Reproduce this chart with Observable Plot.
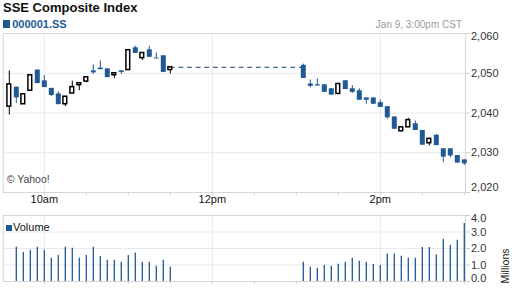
<!DOCTYPE html>
<html><head><meta charset="utf-8">
<script src="https://cdn.jsdelivr.net/npm/d3@7"></script>
<script src="https://cdn.jsdelivr.net/npm/@observablehq/plot@0.6"></script>
<style>
body{margin:0;background:#fff;font-family:"Liberation Sans",Arial,sans-serif;}
#wrap{position:relative;width:512px;height:288px;overflow:hidden;background:#fff;}
#wrap svg{position:absolute;left:0;}
.t{position:absolute;white-space:nowrap;line-height:normal;}
.sq{display:inline-block;width:7.5px;height:7.5px;background:#1f5a94;margin-right:2px;}
</style></head><body><div id="wrap"></div>
<script>
// ---- data ----
const times = ["09:35","09:40","09:45","09:50","09:55","10:00","10:05","10:10","10:15","10:20","10:25","10:30",
  "10:35","10:40","10:45","10:50","10:55","11:00","11:05","11:10","11:15","11:20","11:25","11:30",
  "13:05","13:10","13:15","13:20","13:25","13:30","13:35","13:40","13:45","13:50","13:55","14:00",
  "14:05","14:10","14:15","14:20","14:25","14:30","14:35","14:40","14:45","14:50","14:55","15:00"];
const open  = [2041.6,2046.5,2042.2,2045.6,2050.8,2048.1,2046.2,2044.8,2042.2,2044.9,2047.0,2047.9,
  2050.6,2051.3,2051.1,2049.5,2050.6,2050.8,2056.4,2053.8,2055.9,2053.8,2054.4,2050.8,
  2052.0,2047.3,2047.1,2047.1,2046.1,2044.8,2048.1,2046.1,2045.6,2043.8,2043.8,2042.6,
  2041.6,2039.0,2035.4,2036.4,2037.3,2035.6,2032.4,2034.4,2031.0,2031.0,2029.3,2028.2];
const high  = [2050.6,2046.5,2044.9,2049.5,2050.8,2049.4,2046.2,2045.3,2044.1,2048.0,2047.5,2049.0,
  2052.1,2053.1,2051.1,2050.0,2050.6,2055.8,2056.8,2055.1,2056.8,2055.1,2054.4,2051.5,
  2052.3,2048.3,2048.6,2047.1,2046.1,2047.3,2048.1,2046.9,2046.1,2043.8,2043.8,2043.3,
  2041.6,2039.0,2036.4,2038.7,2038.0,2035.6,2033.5,2034.6,2031.0,2031.0,2029.3,2028.2];
const low   = [2039.5,2042.4,2042.2,2045.4,2047.4,2046.4,2044.1,2042.1,2041.6,2044.9,2045.6,2047.6,
  2049.7,2050.9,2048.9,2048.7,2049.7,2050.8,2055.0,2053.2,2054.0,2053.6,2050.2,2049.8,
  2048.7,2046.3,2046.8,2045.2,2044.5,2044.8,2045.9,2044.9,2043.2,2042.2,2042.2,2041.4,
  2038.4,2035.9,2035.4,2036.4,2035.6,2031.9,2031.7,2031.8,2027.5,2028.7,2027.4,2026.8];
const close = [2047.2,2043.8,2044.7,2049.5,2047.4,2046.4,2044.4,2042.1,2044.1,2046.5,2047.5,2049.0,
  2050.1,2050.9,2048.9,2050.0,2050.2,2055.8,2055.0,2055.1,2054.0,2053.6,2050.2,2051.5,
  2048.7,2046.7,2046.8,2045.2,2044.5,2047.3,2045.9,2045.2,2043.2,2043.2,2042.2,2041.4,
  2038.8,2035.9,2036.4,2038.2,2035.6,2031.9,2033.5,2031.8,2028.9,2029.2,2027.4,2027.2];
const volume = [null,2.08,1.76,1.90,2.08,1.90,1.41,1.58,2.08,2.02,1.41,1.58,
  2.08,1.52,1.29,1.29,1.17,1.58,1.72,1.17,1.17,0.93,1.29,0.87,
  1.17,0.87,0.81,0.97,0.93,1.05,1.17,1.41,1.23,1.17,1.03,0.97,
  1.66,1.66,1.53,1.41,1.41,2.06,2.06,1.60,2.56,2.20,2.50,3.52];
const xLabelTimes = ["10:00","12:00","14:00"];
const xLabels = ["10am","12pm","2pm"];
const xTickTimes = ["10:00","10:30","11:00","11:30","12:00","12:30","13:00","13:30","14:00","14:30","15:00"];
const priceTicks = [2020,2030,2040,2050,2060];
const volTicks = [0,1,2,3,4];

// ---- build ----
const BLUE = "#1f5a94";
const mins = s => { const [h,m] = s.split(":").map(Number); return h*60+m-570; };
const rows = times.map((t,i)=>({m:mins(t),open:open[i],high:high[i],low:low[i],close:close[i],vol:volume[i]}));
const ups = rows.filter(d=>d.close>=d.open), downs = rows.filter(d=>d.close<d.open);
const lastAM = rows[23], firstPM = rows[24];
const labM = xLabelTimes.map(mins), tickM = xTickTimes.map(mins);
const xDomain = [0.64, 330.86];
const font = {fontFamily:"Liberation Sans, Arial, sans-serif", background:"transparent", overflow:"visible"};
const GRID = "#e6e9ef", FRAME = "#d6d6d6";

const main = Plot.plot({
  width:512, height:207, marginTop:33, marginBottom:15, marginLeft:2.7, marginRight:47,
  style:font,
  x:{domain:xDomain, axis:null, label:null},
  y:{domain:[2020,2060], axis:null, label:null},
  marks:[
    Plot.gridY(priceTicks.slice(1,-1), {stroke:GRID, strokeOpacity:1}),
    Plot.gridX(labM, {stroke:GRID, strokeOpacity:1}),
    Plot.frame({stroke:FRAME}),
    Plot.axisX(tickM, {anchor:"bottom", tickSize:3, tickFormat:()=>"", stroke:"#ccc", label:null}),
    Plot.axisY(priceTicks, {anchor:"right", tickSize:4, tickFormat:()=>"", stroke:"#ccc", label:null}),
    Plot.text(labM, {x:d=>d, frameAnchor:"bottom", dy:10, text:(d,i)=>xLabels[i], fontSize:11, fill:"#111"}),
    Plot.text(priceTicks.slice(1,-1), {y:d=>d, frameAnchor:"right", dx:5.5, textAnchor:"start", text:d=>d3.format(",")(d), fontSize:11, fill:"#333"}),
    Plot.text([priceTicks[4]], {y:d=>d, frameAnchor:"right", dx:5.5, dy:3, textAnchor:"start", text:d=>d3.format(",")(d), fontSize:11, fill:"#333"}),
    Plot.text([priceTicks[0]], {y:d=>d, frameAnchor:"right", dx:5.5, dy:-5, textAnchor:"start", text:d=>d3.format(",")(d), fontSize:11, fill:"#333"}),
    Plot.text(["© Yahoo!"], {frameAnchor:"bottom-left", dx:3.5, dy:-10, textAnchor:"start", fontSize:10.5, fill:"#444"}),
    Plot.line([{m:lastAM.m,v:lastAM.close},{m:firstPM.m,v:lastAM.close}], {x:"m", y:"v", stroke:"#1d3f6e", strokeDasharray:"4,4.6", strokeWidth:1}),
    Plot.ruleX(downs, {x:"m", y1:"low", y2:"high", stroke:BLUE, strokeWidth:1}),
    Plot.ruleX(ups, {x:"m", y1:"low", y2:"high", stroke:"#000", strokeWidth:1}),
    Plot.ruleX(downs, {x:"m", y1:"open", y2:"close", stroke:BLUE, strokeWidth:5}),
    Plot.rect(ups, {x1:d=>d.m-1.35, x2:d=>d.m+1.35, y1:"open", y2:"close", fill:"#fff", stroke:"#000", strokeWidth:1.5})
  ]
});
main.style.top = "0px";

const vol = Plot.plot({
  width:512, height:81, marginTop:8, marginBottom:7, marginLeft:2.7, marginRight:47,
  style:font,
  x:{domain:xDomain, axis:null, label:null},
  y:{domain:[0,4], axis:null, label:null},
  marks:[
    Plot.gridY(volTicks.slice(1,-1), {stroke:GRID, strokeOpacity:1}),
    Plot.gridX(labM, {stroke:GRID, strokeOpacity:1}),
    Plot.frame({stroke:FRAME}),
    Plot.axisX(tickM, {anchor:"bottom", tickSize:3, tickFormat:()=>"", stroke:"#ccc", label:null}),
    Plot.axisY(volTicks, {anchor:"right", tickSize:4, tickFormat:()=>"", stroke:"#ccc", label:null}),
    Plot.ruleX(rows.filter(d=>d.vol!=null), {x:"m", y1:0, y2:"vol", stroke:BLUE, strokeWidth:1.3}),
    Plot.text(volTicks.slice(1,-1), {y:d=>d, frameAnchor:"right", dx:5.5, textAnchor:"start", text:d=>d3.format(".1f")(d), fontSize:11, fill:"#333"}),
    Plot.text([volTicks[4]], {y:d=>d, frameAnchor:"right", dx:5.5, dy:3, textAnchor:"start", text:d=>d3.format(".1f")(d), fontSize:11, fill:"#333"}),
    Plot.text([volTicks[0]], {y:d=>d, frameAnchor:"right", dx:5.5, dy:-3, textAnchor:"start", text:d=>d3.format(".1f")(d), fontSize:11, fill:"#333"}),
    Plot.text(["Millions"], {frameAnchor:"right", dx:40, rotate:-90, fontSize:10.5, fill:"#222"})
  ]
});
vol.style.top = "207px";

const wrap = document.getElementById("wrap");
wrap.append(main, vol);
wrap.insertAdjacentHTML("beforeend",
  '<div class="t" style="left:3px;top:0px;font-weight:bold;font-size:13px;color:#111">SSE Composite Index</div>' +
  '<div class="t" style="left:2.7px;top:17.5px;font-weight:bold;font-size:11px;color:#1f5a94"><span class="sq"></span>000001.SS</div>' +
  '<div class="t" style="right:50px;top:19px;font-size:10px;color:#9a9a9a">Jan 9, 3:00pm CST</div>' +
  '<div class="t" style="left:6px;top:221px;font-size:11px;color:#111"><span class="sq" style="width:6px;height:6px;margin-right:1px"></span>Volume</div>');
</script></body></html>
